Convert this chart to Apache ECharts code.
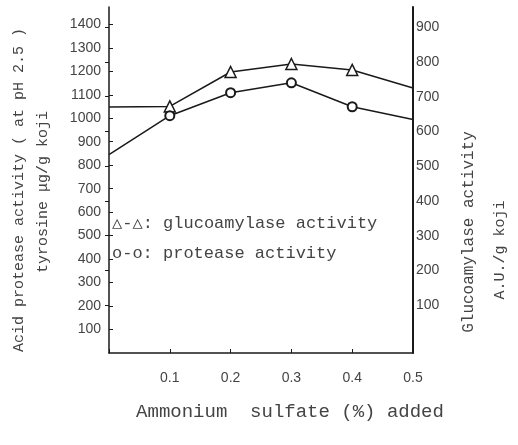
<!DOCTYPE html>
<html>
<head>
<meta charset="utf-8">
<script src="https://cdn.jsdelivr.net/npm/echarts@6/dist/echarts.min.js"></script>
<style>
  html, body { margin: 0; padding: 0; background: #fff; }
  #chart { width: 518px; height: 445px; }
</style>
</head>
<body>
<div id="chart"></div>
<script>
// ammonium sulfate added (%)
const sulfate = [0, 0.1, 0.2, 0.3, 0.4, 0.5]
// glucoamylase activity, A.U./g koji (right axis)
const glucoamylase = [670, 672, 771, 794, 777, 725]
// acid protease activity, tyrosine ug/g koji (left axis)
const protease = [845, 1011, 1109, 1151, 1049, 995]
// the end points sit on the axes without a marker
const marked = [false, true, true, true, true, false]

const ink = '#1a1a1a'
const textColor = '#444'
const font = '"Liberation Sans", "DejaVu Sans", sans-serif'
// lettering on the figure is wide-set, a mono face is closest
const letterFont = '"Liberation Mono", "DejaVu Sans Mono", monospace'

function toPoints(values, symbol) {
  return sulfate.map((x, i) => ({
    value: [x, values[i]],
    symbol: marked[i] ? symbol : 'none',
  }))
}

function label(text, x, y, size, opts) {
  opts = opts || {}
  return {
    type: 'text',
    x: x,
    y: y,
    rotation: opts.vertical ? Math.PI / 2 : 0,
    style: {
      text: text,
      fill: textColor,
      font: size + 'px ' + letterFont,
      textAlign: opts.align || 'center',
      textVerticalAlign: 'middle',
    },
  }
}

const tickLabel = {
  color: textColor,
  fontSize: 14,
  fontFamily: font,
  formatter: v => String(v),
}

const chart = echarts.init(document.getElementById('chart'))
chart.setOption({
  animation: false,
  backgroundColor: '#fff',
  grid: [
    { left: 109, right: 105, top: 7, bottom: 92 },
    { left: 109, right: 105, top: 7, bottom: 105 },
  ],
  xAxis: [
    {
      gridIndex: 0,
      type: 'value',
      min: 0,
      max: 0.5,
      interval: 0.1,
      axisLine: { show: true, lineStyle: { color: ink, width: 1.5 } },
      axisTick: { show: true, inside: true, length: 4, lineStyle: { color: ink } },
      splitLine: { show: false },
      axisLabel: {
        ...tickLabel,
        margin: 18,
        formatter: v => (v === 0 ? '' : v.toFixed(1)),
      },
    },
    { gridIndex: 1, type: 'value', min: 0, max: 0.5, show: false },
  ],
  yAxis: [
    {
      gridIndex: 0,
      type: 'value',
      position: 'left',
      min: 0,
      max: 1474,
      interval: 100,
      axisLine: { show: true, lineStyle: { color: ink, width: 1.5 } },
      axisTick: { show: true, inside: true, length: 4, lineStyle: { color: ink } },
      splitLine: { show: false },
      axisLabel: { ...tickLabel, margin: 8, showMinLabel: false, showMaxLabel: false },
    },
    {
      // right frame line down to the x axis
      gridIndex: 0,
      type: 'value',
      position: 'right',
      min: 0,
      max: 1,
      axisLine: { show: true, lineStyle: { color: ink, width: 2 } },
      axisTick: { show: false },
      axisLabel: { show: false },
      splitLine: { show: false },
    },
    {
      gridIndex: 1,
      type: 'value',
      position: 'right',
      min: 0,
      max: 958,
      interval: 100,
      axisLine: { show: false },
      axisTick: { show: true, inside: true, length: 4, lineStyle: { color: ink } },
      splitLine: { show: false },
      axisLabel: { ...tickLabel, margin: 3, showMinLabel: false, showMaxLabel: false },
    },
  ],
  series: [
    {
      name: 'glucoamylase activity',
      type: 'line',
      xAxisIndex: 1,
      yAxisIndex: 2,
      data: toPoints(glucoamylase, 'triangle'),
      symbolSize: 11,
      lineStyle: { color: ink, width: 1.5 },
      itemStyle: { color: '#fff', borderColor: ink, borderWidth: 1.5 },
    },
    {
      name: 'protease activity',
      type: 'line',
      xAxisIndex: 0,
      yAxisIndex: 0,
      data: toPoints(protease, 'circle'),
      symbolSize: 9,
      lineStyle: { color: ink, width: 1.5 },
      itemStyle: { color: '#fff', borderColor: ink, borderWidth: 2 },
    },
  ],
  graphic: [
    label('Acid protease activity ( at pH 2.5 )', 19, 190, 15, { vertical: true }),
    label('tyrosine \u03bcg/g koji', 43, 192, 15, { vertical: true }),
    label('Glucoamylase activity', 469, 232, 16, { vertical: true }),
    label('A.U./g koji', 500, 250, 15, { vertical: true }),
    label('Ammonium  sulfate (%) added', 290, 412, 19),
    label('\u25b3-\u25b3: glucoamylase activity', 112, 223, 17, { align: 'left' }),
    label('o-o: protease activity', 112, 253, 17, { align: 'left' }),
  ],
})
</script>
</body>
</html>
